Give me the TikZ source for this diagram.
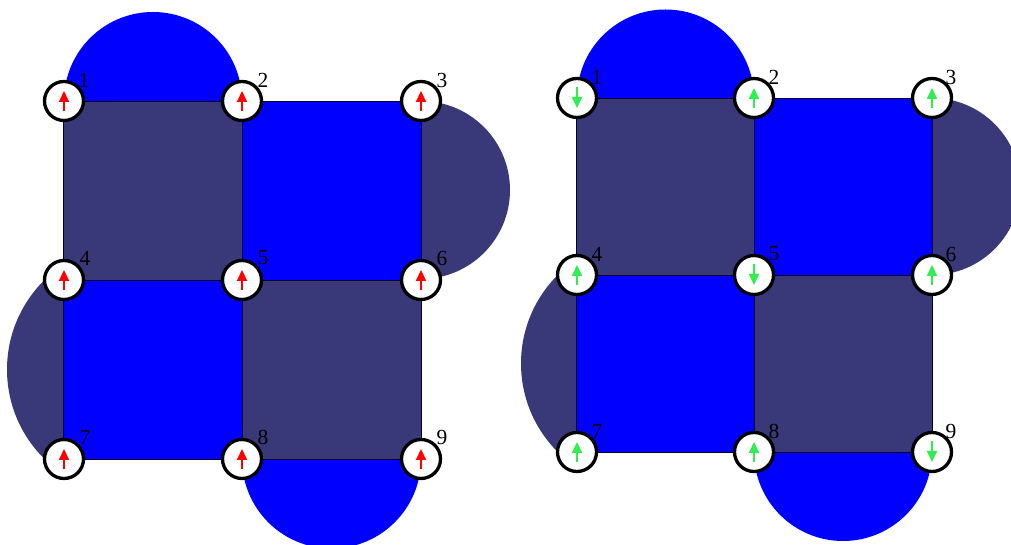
\documentclass[tikz,border=0pt]{standalone}
\usepackage{fontspec}
\setmainfont{Liberation Serif}
\usetikzlibrary{arrows.meta}
\definecolor{dk}{RGB}{57,57,122}
\definecolor{bl}{RGB}{0,0,255}
\definecolor{grn}{RGB}{48,238,80}
\tikzset{
  dkface/.style={fill=dk},
  blface/.style={fill=bl},
  edgeline/.style={draw=black!85!blue,line width=0.8pt},
  spin/.style={circle,draw=black,fill=white,line width=3.3pt,minimum size=39pt,inner sep=0pt},
  num/.style={inner sep=0pt,font=\fontsize{21.5}{21.5}\selectfont},
  upred/.style={draw=red,line width=2pt,-{Triangle[width=10pt,length=11pt]}},
  upgreen/.style={draw=grn,line width=2pt,-{Triangle[width=10pt,length=11pt]}},
}
\begin{document}
\begin{tikzpicture}[x=1pt,y=1pt]
\useasboundingbox (0,0) rectangle (1011,545);
\clip (0,0) rectangle (1011,545);
% ---------- left lattice
\fill[bl] (64,444) arc[start angle=180,end angle=0,radius=89];
\fill[dk] (421,355) ++(0,89) arc[start angle=90,end angle=-90,radius=89];
\fill[bl] (242,86) arc[start angle=180,end angle=360,radius=89.5];
\begin{scope}
  \clip (0,0) rectangle (63,545);
  \fill[dk] (132.6,175.5) circle[radius=125.6];
\end{scope}
\path[dkface] (63,265) rectangle (242,444);
\path[blface] (242,265) rectangle (421,444);
\path[blface] (63,86) rectangle (242,265);
\path[dkface] (242,86) rectangle (421,265);
\draw[edgeline] (63,444) -- (421,444) -- (421,86) -- (63,86) -- cycle;
\draw[edgeline] (242,444) -- (242,86);
\draw[edgeline] (63,265) -- (421,265);
% ---------- right lattice
\fill[bl] (577,447) arc[start angle=180,end angle=0,radius=88.5];
\fill[dk] (932,358.5) ++(0,88.5) arc[start angle=90,end angle=-90,radius=88.5];
\fill[bl] (754,93) arc[start angle=180,end angle=360,radius=89];
\begin{scope}
  \clip (0,0) rectangle (576,545);
  \fill[dk] (646,181.5) circle[radius=125];
\end{scope}
\path[dkface] (576,270) rectangle (754,447);
\path[blface] (754,270) rectangle (932,447);
\path[blface] (576,93) rectangle (754,270);
\path[dkface] (754,93) rectangle (932,270);
\draw[edgeline] (576,447) -- (932,447) -- (932,93) -- (576,93) -- cycle;
\draw[edgeline] (754,447) -- (754,93);
\draw[edgeline] (576,270) -- (932,270);
% ---------- labels (beneath the circles)
\foreach \n/\x/\y in {1/84/465,2/263/465,3/442/465,4/85/287,5/263/287,6/442/287,7/85/108,8/263/108,9/442/108}
  \node[num] (a\n) at (\x,\y) {\n};
\foreach \n/\x/\y in {1/597/468,2/774/468,3/951/468,4/597/291,5/774/291,6/951/291,7/597/114,8/774/114,9/951/114}
  \node[num] (b\n) at (\x,\y) {\n};
% ---------- left sites
\foreach \n/\x/\y in {1/64/444,2/242/444,3/421/444,4/64/265,5/242/265,6/421/265,7/64/86,8/242/86,9/421/86}{
  \node[spin] (p\n) at (\x,\y) {};
  \coordinate (ps\n) at (\x,\y-10.5);
  \coordinate (pe\n) at (\x,\y+10);
  \draw[upred] (ps\n) -- (pe\n);
}
% ---------- right sites
\foreach \n/\x/\y in {2/754/447,3/932/447,4/577/270,6/932/270,7/577/93,8/754/93}{
  \node[spin] (q\n) at (\x,\y) {};
  \coordinate (qs\n) at (\x,\y-10.5);
  \coordinate (qe\n) at (\x,\y+10);
  \draw[upgreen] (qs\n) -- (qe\n);
}
\foreach \n/\x/\y in {1/577/447,5/754/270,9/932/93}{
  \node[spin] (q\n) at (\x,\y) {};
  \coordinate (qs\n) at (\x,\y+10.5);
  \coordinate (qe\n) at (\x,\y-10);
  \draw[upgreen] (qs\n) -- (qe\n);
}
\end{tikzpicture}
\end{document}
